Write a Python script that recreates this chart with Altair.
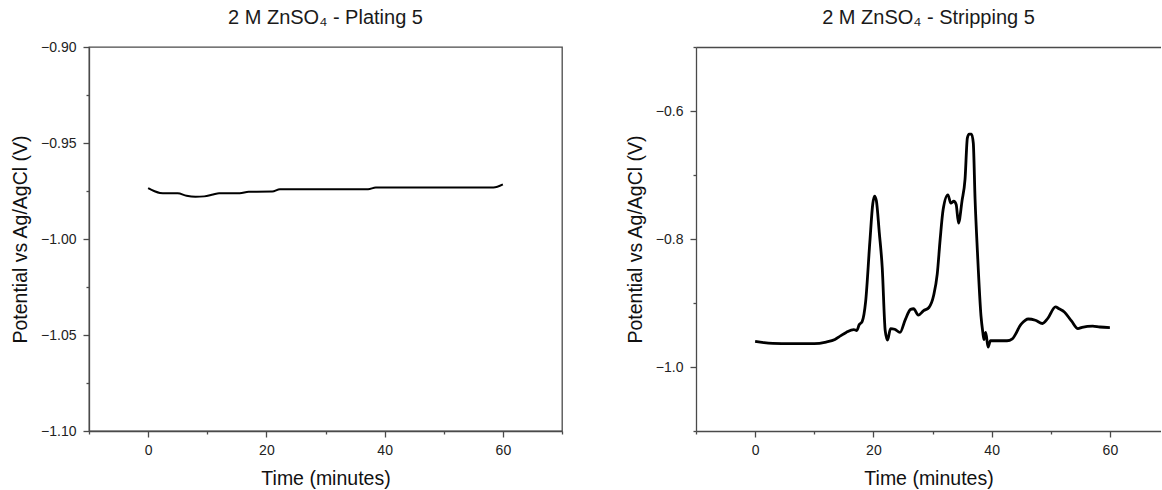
import altair as alt
import pandas as pd

# Galvanostatic plating, cycle 5 (time in minutes, potential in V vs Ag/AgCl)
plating_time = [0, 1, 2, 3, 5, 6.5, 8, 9.5, 11, 12, 15.5, 17, 21, 22.3, 30, 37.2, 38.5, 45, 52, 58.4, 60]
plating_potential = [-0.9735, -0.9750, -0.9760, -0.9762, -0.9762, -0.9775, -0.9780, -0.9778, -0.9768,
                     -0.9762, -0.9762, -0.9754, -0.9753, -0.9741, -0.9741, -0.9741, -0.9732, -0.9732,
                     -0.9732, -0.9732, -0.9716]

# Stripping, cycle 5
stripping_time = [0, 1.5, 3, 6, 10, 12, 13.5, 14.5, 15.4, 16.7, 17.2, 17.6, 18.1, 18.7, 19.4, 19.9,
                  20.2, 20.5, 21.0, 21.5, 22.0, 22.4, 22.9, 23.6, 24.5, 25.4, 26.3, 26.8, 27.6, 28.5,
                  29.4, 30.2, 30.8, 31.3, 31.8, 32.6, 33.1, 33.6, 34.0, 34.4, 35.0, 35.5, 35.9, 36.2,
                  36.6, 36.9, 37.2, 37.6, 38.2, 38.5, 38.7, 39.0, 39.4, 39.8, 42.6, 43.5, 45.0, 46.2,
                  47.4, 48.6, 49.5, 50.8, 51.4, 52.3, 53.5, 54.6, 55.3, 57.1, 58.3, 60.0]
stripping_potential = [-0.960, -0.962, -0.963, -0.9635, -0.9635, -0.961, -0.957, -0.951, -0.946,
                       -0.9415, -0.943, -0.934, -0.929, -0.897, -0.805, -0.745, -0.733, -0.740,
                       -0.790, -0.845, -0.943, -0.958, -0.940, -0.941, -0.946, -0.926, -0.910,
                       -0.909, -0.919, -0.912, -0.907, -0.888, -0.855, -0.800, -0.754, -0.731,
                       -0.744, -0.741, -0.746, -0.775, -0.740, -0.707, -0.642, -0.636, -0.636,
                       -0.650, -0.738, -0.820, -0.920, -0.945, -0.957, -0.946, -0.969, -0.959,
                       -0.959, -0.956, -0.933, -0.925, -0.927, -0.932, -0.924, -0.906, -0.909,
                       -0.914, -0.928, -0.940, -0.938, -0.936, -0.9375, -0.9385]

# Axis tick positions (major + minor)
time_ticks = [-10, 0, 10, 20, 30, 40, 50, 60, 70]
plating_ticks = [-1.100, -1.075, -1.050, -1.025, -1.000, -0.975, -0.950, -0.925, -0.900]
stripping_ticks = [-1.1, -1.0, -0.9, -0.8, -0.7, -0.6, -0.5]

FONT = "Liberation Sans"
AXIS_COLOR = "#4a4a4a"
PX_PER_MIN = 473 / 80  # same time scale in both panels


def tick_size(test):
    return {"condition": {"test": test, "value": 6}, "value": 3}


def x_axis():
    major = "datum.value % 20 == 0"
    return alt.Axis(
        values=time_ticks,
        labelExpr=f"{major} ? datum.label : ''",
        tickSize=tick_size(major),
        title="Time (minutes)",
        titlePadding=12,
        labelPadding=6,
        labelOverlap=False,
        labelFlush=False,
        grid=False,
    )


def y_axis(values, major, fmt):
    return alt.Axis(
        values=values,
        format=fmt,
        labelExpr=f"{major} ? datum.label : ''",
        tickSize=tick_size(major),
        title="Potential vs Ag/AgCl (V)",
        titlePadding=10,
        labelPadding=7,
        labelOverlap=False,
        labelFlush=False,
        grid=False,
    )


def panel_title(text):
    return alt.TitleParams(text, fontSize=20, fontWeight="normal", font=FONT,
                           color="#1a1a1a", offset=12)


plating_df = pd.DataFrame({"t": plating_time, "v": plating_potential})
stripping_df = pd.DataFrame({"t": stripping_time, "v": stripping_potential})

plating = alt.Chart(plating_df).mark_line(
    color="black", strokeWidth=2, strokeJoin="round", interpolate="monotone"
).encode(
    x=alt.X("t:Q", scale=alt.Scale(domain=[-10, 70], nice=False, zero=False), axis=x_axis()),
    y=alt.Y("v:Q", scale=alt.Scale(domain=[-1.10, -0.90], nice=False, zero=False),
            axis=y_axis(plating_ticks, "abs(round(datum.value * 1000)) % 50 == 0", ".2f")),
).properties(width=473, height=384, title=panel_title("2 M ZnSO₄ - Plating 5"))

# The stripping panel runs off the right edge of the figure, so it has no right border
strip_width = 465
strip_x = alt.Scale(domain=[-10, -10 + strip_width / PX_PER_MIN], nice=False, zero=False)
strip_y = alt.Scale(domain=[-1.1, -0.5], nice=False, zero=False)

strip_line = alt.Chart(stripping_df).mark_line(
    color="black", strokeWidth=2.8, strokeJoin="round", interpolate="monotone"
).encode(
    x=alt.X("t:Q", scale=strip_x, axis=x_axis()),
    y=alt.Y("v:Q", scale=strip_y,
            axis=y_axis(stripping_ticks, "abs(round(datum.value * 10)) % 2 == 0", ".1f")),
)
strip_top = alt.Chart(stripping_df).mark_line(opacity=0).encode(
    x=alt.X("t:Q", scale=strip_x,
            axis=alt.Axis(orient="top", domain=True, ticks=False, labels=False, title=None, grid=False)),
    y=alt.Y("v:Q", scale=strip_y),
)
stripping = alt.layer(strip_line, strip_top).resolve_axis(x="independent").properties(
    width=strip_width, height=384, title=panel_title("2 M ZnSO₄ - Stripping 5"),
    view=alt.ViewBackground(strokeWidth=0),
)

chart = alt.hconcat(plating, stripping, spacing=134, bounds="flush").properties(
    padding={"left": 9, "top": 7, "right": 0, "bottom": 0},
    background="white",
).configure(
    font=FONT,
).configure_view(
    stroke=AXIS_COLOR, strokeWidth=1.3,
).configure_axis(
    domainColor=AXIS_COLOR, domainWidth=1.3,
    tickColor=AXIS_COLOR, tickWidth=1.3,
    labelFont=FONT, labelFontSize=14, labelColor="#222",
    titleFont=FONT, titleFontSize=19.5, titleFontWeight="normal", titleColor="#111",
)

chart.save("out.html", embed_options={"renderer": "svg", "actions": False})
